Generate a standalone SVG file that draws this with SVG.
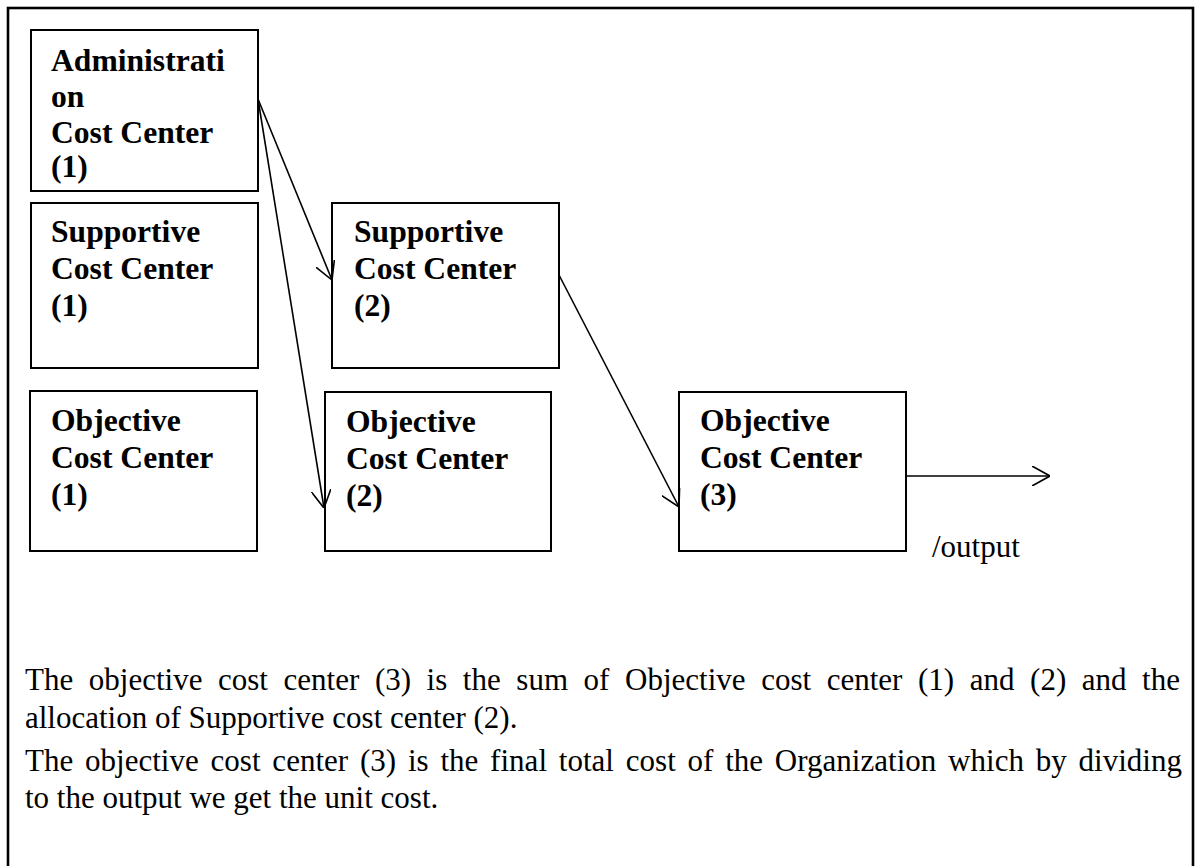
<svg xmlns="http://www.w3.org/2000/svg" width="1200" height="866" viewBox="0 0 1200 866">
  <style>
    .box { fill: #ffffff; stroke: #000000; stroke-width: 2; }
    .lbl { font-family: "Liberation Serif", "Times New Roman", serif; font-size: 31.6px; font-weight: bold; fill: #000000; }
    .txt { font-family: "Liberation Serif", "Times New Roman", serif; font-size: 31px; fill: #000000; }
    .conn { stroke: #000000; stroke-width: 1.6; fill: none; marker-end: url(#arrow); }
  </style>
  <defs>
    <marker id="arrow" viewBox="0 0 18 20" refX="18" refY="10" markerWidth="18" markerHeight="20" markerUnits="userSpaceOnUse" orient="auto">
      <path d="M0,0 L18,10 L0,20" fill="none" stroke="#000000" stroke-width="1.6"/>
    </marker>
  </defs>
  <rect width="1200" height="866" fill="#ffffff"/>
  <rect id="frame" x="8" y="8" width="1185" height="870" fill="none" stroke="#000000" stroke-width="2.6"/>

  <g id="admin1">
    <rect class="box" x="31" y="30" width="227" height="161"/>
    <text class="lbl" x="51" y="71">Administrati</text>
    <text class="lbl" x="51" y="107">on</text>
    <text class="lbl" x="51" y="143">Cost Center</text>
    <text class="lbl" x="51" y="177">(1)</text>
  </g>
  <g id="supportive1">
    <rect class="box" x="31" y="203" width="227" height="165"/>
    <text class="lbl" x="51" y="242">Supportive</text>
    <text class="lbl" x="51" y="279">Cost Center</text>
    <text class="lbl" x="51" y="316">(1)</text>
  </g>
  <g id="objective1">
    <rect class="box" x="30" y="391" width="227" height="160"/>
    <text class="lbl" x="51" y="431">Objective</text>
    <text class="lbl" x="51" y="468">Cost Center</text>
    <text class="lbl" x="51" y="505">(1)</text>
  </g>
  <g id="supportive2">
    <rect class="box" x="332" y="203" width="227" height="165"/>
    <text class="lbl" x="354" y="242">Supportive</text>
    <text class="lbl" x="354" y="279">Cost Center</text>
    <text class="lbl" x="354" y="316">(2)</text>
  </g>
  <g id="objective2">
    <rect class="box" x="325" y="392" width="226" height="159"/>
    <text class="lbl" x="346" y="432">Objective</text>
    <text class="lbl" x="346" y="469">Cost Center</text>
    <text class="lbl" x="346" y="506">(2)</text>
  </g>
  <g id="objective3">
    <rect class="box" x="679" y="392" width="227" height="159"/>
    <text class="lbl" x="700" y="431">Objective</text>
    <text class="lbl" x="700" y="468">Cost Center</text>
    <text class="lbl" x="700" y="505">(3)</text>
  </g>

  <g id="connectors">
    <line class="conn" x1="258" y1="99" x2="332" y2="280"/>
    <line class="conn" x1="258" y1="99" x2="324" y2="508"/>
    <line class="conn" x1="559" y1="275" x2="679" y2="507"/>
    <line class="conn" x1="906" y1="476" x2="1050" y2="476"/>
  </g>

  <text id="output-label" class="txt" x="932" y="557">/output</text>

  <g id="notes">
    <text class="txt" x="25" y="690" word-spacing="7.8" textLength="1155" lengthAdjust="spacing">The objective cost center (3) is the sum of Objective cost center (1) and (2) and the</text>
    <text class="txt" x="25" y="728">allocation of Supportive cost center (2).</text>
    <text class="txt" x="25" y="771" word-spacing="4" textLength="1157" lengthAdjust="spacing">The objective cost center (3) is the final total cost of the Organization which by dividing</text>
    <text class="txt" x="25" y="808">to the output we get the unit cost.</text>
  </g>
</svg>
